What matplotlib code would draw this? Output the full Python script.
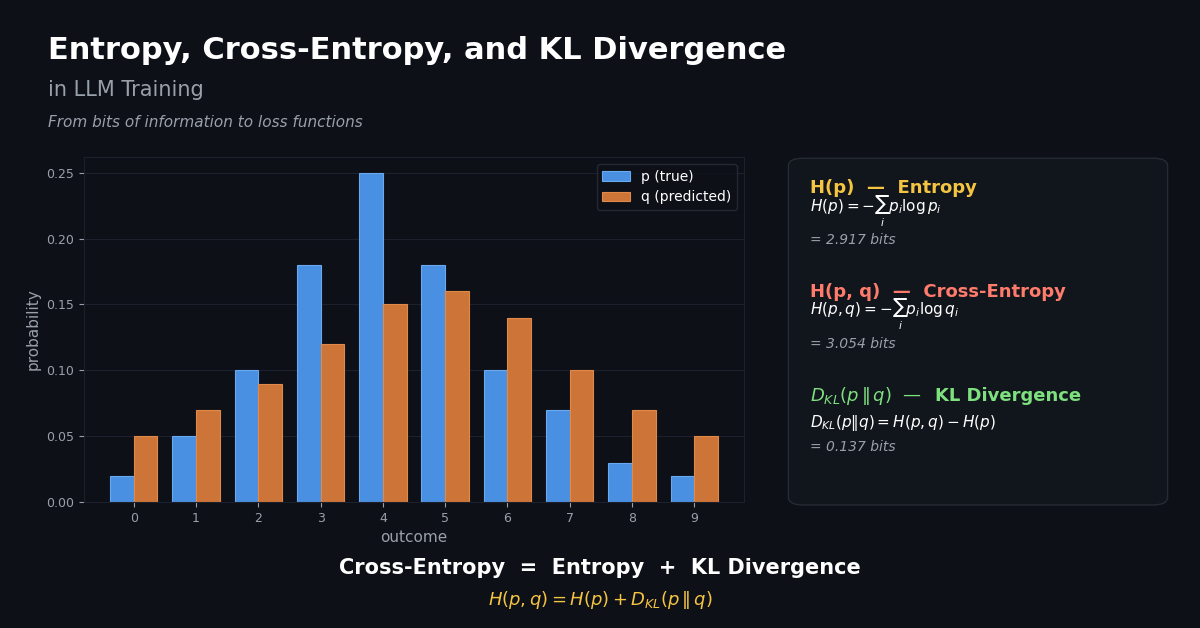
import numpy as np
import matplotlib.pyplot as plt
from matplotlib.patches import FancyBboxPatch

outcomes = list(range(10))
p_true = [0.02, 0.05, 0.10, 0.18, 0.25, 0.18, 0.10, 0.07, 0.03, 0.02]
q_pred = [0.05, 0.07, 0.09, 0.12, 0.15, 0.16, 0.14, 0.10, 0.07, 0.05]
yticks = [0.00, 0.05, 0.10, 0.15, 0.20, 0.25]

bg = '#0d1017'
fig = plt.figure(figsize=(12, 6.28), dpi=100, facecolor=bg)

fig.text(0.04, 0.92, 'Entropy, Cross-Entropy, and KL Divergence', color='white',
         fontsize=22, fontweight='bold', va='center')
fig.text(0.04, 0.856, 'in LLM Training', color='#9aa0aa', fontsize=15, va='center')
fig.text(0.04, 0.805, 'From bits of information to loss functions', color='#9aa0aa',
         fontsize=11, style='italic', va='center')

ax = fig.add_axes([0.07, 0.2006, 0.55, 0.5494], facecolor=bg)
x = np.array(outcomes)
w = 0.38
ax.bar(x - w / 2, p_true, w, color='#4a90e2', edgecolor='#6aa8f0', linewidth=0.8, label='p (true)')
ax.bar(x + w / 2, q_pred, w, color='#cd7438', edgecolor='#e08a4a', linewidth=0.8, label='q (predicted)')
ax.set_xticks(outcomes)
ax.set_yticks(yticks)
ax.set_yticklabels([f'{v:.2f}' for v in yticks])
ax.set_ylim(0, 0.262)
ax.set_xlim(-0.8, 9.8)
ax.grid(axis='y', color='#1c212b', linewidth=0.8)
ax.set_axisbelow(True)
ax.tick_params(colors='#9aa0aa', labelsize=9)
for s in ax.spines.values():
    s.set_color('#1c212b')
ax.set_xlabel('outcome', color='#9aa0aa', fontsize=11)
ax.set_ylabel('probability', color='#9aa0aa', fontsize=11)
leg = ax.legend(loc='upper right', facecolor=bg, edgecolor='#2a2f38', fontsize=10)
for t in leg.get_texts():
    t.set_color('white')

box = FancyBboxPatch((0.657, 0.196), 0.316, 0.552, boxstyle='round,pad=0,rounding_size=0.012',
                     transform=fig.transFigure, facecolor='#11151c', edgecolor='#262b34', linewidth=1)
fig.patches.append(box)

tx = 0.675
fig.text(tx, 0.701, 'H(p)  —  Entropy', color='#f5c542', fontsize=13, fontweight='bold', va='center')
fig.text(tx, 0.663, r'$H(p) = -\sum_i p_i \log p_i$', color='white', fontsize=11, va='center')
fig.text(tx, 0.618, '= 2.917 bits', color='#9aa0aa', fontsize=10, style='italic', va='center')
fig.text(tx, 0.535, 'H(p, q)  —  Cross-Entropy', color='#ff7b6b', fontsize=13, fontweight='bold', va='center')
fig.text(tx, 0.498, r'$H(p,q) = -\sum_i p_i \log q_i$', color='white', fontsize=11, va='center')
fig.text(tx, 0.453, '= 3.054 bits', color='#9aa0aa', fontsize=10, style='italic', va='center')
fig.text(tx, 0.370, r'$D_{KL}(p\,\|\,q)$  —  ', color='#7ee07e', fontsize=13, va='center')
fig.text(tx + 0.104, 0.370, 'KL Divergence', color='#7ee07e', fontsize=13, fontweight='bold', va='center')
fig.text(tx, 0.326, r'$D_{KL}(p\|q) = H(p,q) - H(p)$', color='white', fontsize=11, va='center')
fig.text(tx, 0.289, '= 0.137 bits', color='#9aa0aa', fontsize=10, style='italic', va='center')

fig.text(0.5, 0.096, 'Cross-Entropy  =  Entropy  +  KL Divergence', color='white', fontsize=15,
         fontweight='bold', ha='center', va='center')
fig.text(0.5, 0.045, r'$H(p,q) = H(p) + D_{KL}(p\,\|\,q)$', color='#f5c542', fontsize=13,
         ha='center', va='center')

fig.savefig('out.png', dpi=100, facecolor=bg)
